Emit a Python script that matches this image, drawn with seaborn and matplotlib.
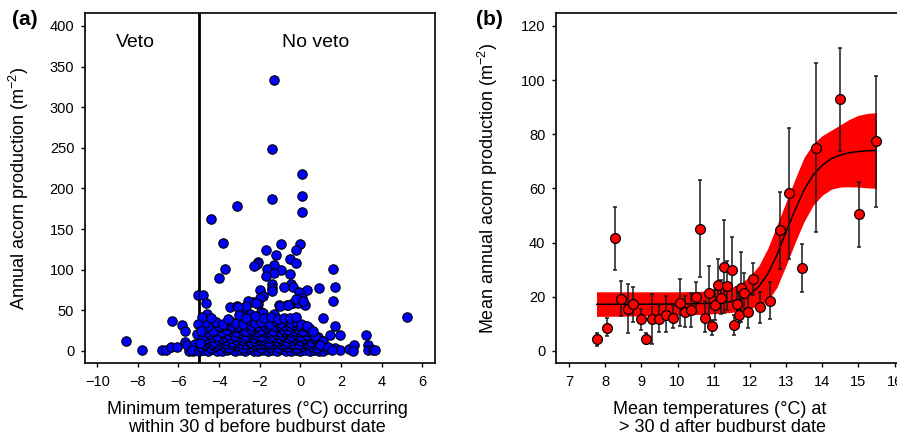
import seaborn as sns
import matplotlib.pyplot as plt
import numpy as np

# ---- panel (a): minimum temperature vs annual acorn production ----
veto_x = [-8.60, -7.78, -6.81, -6.60, -6.39, -6.09, -5.50, -5.29, -6.30, -5.81,
          -5.70, -5.70, -5.57, -5.21, -5.11, -5.35]
veto_y = [12.3, 1.2, 1.6, 0.8, 4.5, 4.9, 0, 0, 37, 31.6,
          24.2, 11.1, 7, 8, 20.5, 1]

high_x = [-1.29, -1.39, 0.10, 0.10, -1.39, -3.10, 0.10, -4.40, -3.79, -0.98,
          0.0, -1.70, -0.21, -1.20, -0.51, -2.10, -2.16, -2.30, -1.28, -0.21,
          -3.69, 1.58, -1.66, -0.97, -1.31, -0.51, -1.68, -4.0, -1.38, -0.47,
          -1.38, -0.80, -0.39, 0.91, 1.71, -1.98, -1.38, 0.32, -0.08, -5.02,
          -4.79, -1.84, 0.07, -2.0, -4.66, 1.60, -2.33, -2.59, -0.36, -0.11,
          0.2, -1.04, -0.65, -3.49, -3.10, -2.79, -2.07, -2.46, -4.6, -1.93,
          -1.28, -2.66, -2.17, -1.02, -0.61, -3.07, -1.84, -0.20, 0.13]
high_y = [334, 248, 218, 191, 187, 178, 171, 163, 133, 132,
          132, 124, 124, 118, 113, 110, 107, 104, 106, 108,
          101, 101, 101, 100, 96, 95, 92, 90, 83, 82,
          78, 79, 79, 78, 79, 75, 73.5, 75.6, 72, 69,
          69, 68, 65, 65, 59, 61, 60, 62, 59, 59.5,
          56, 56, 56, 54, 55, 52.6, 58, 46, 46, 48.5,
          45, 55.4, 58.7, 55.4, 56.6, 53.7, 47, 64, 62]

# dense cloud, read row by row from the bottom
row0_x = [-5.0, -4.8, -4.55, -4.3, -4.1, -3.85, -3.6, -3.4, -3.2, -2.95, -2.75, -2.5, -2.3, -2.1, -1.85,
          -1.6, -1.4, -1.15, -0.9, -0.7, -0.45, -0.2, 0.0, 0.2, 0.45, 0.65, 0.9, 1.1, 1.3]
row0_y = [0, 1.5, 0, 2, 0.5, 0, 1, 2, 0, 1, 0, 2, 0.5, 0, 1.5,
          0, 1, 0, 2, 0.5, 0, 1, 0, 1.5, 0, 1, 0, 0.5, 2]
row1_x = [-4.9, -4.65, -4.4, -4.2, -3.95, -3.7, -3.5, -3.25, -3.05, -2.85, -2.6, -2.4, -2.2, -1.95,
          -1.75, -1.5, -1.3, -1.05, -0.85, -0.6, -0.35, -0.15, 0.1, 0.3, 0.55, 0.8, 1.0]
row1_y = [5, 7, 4, 6, 8, 5, 4, 7, 6, 4, 8, 5, 6, 4, 7, 5, 8, 4, 6, 5, 7, 4, 6, 8, 5, 4, 7]
rowA_x = [-4.75, -4.5, -4.3, -4.05, -3.8, -3.6, -3.35, -3.15, -2.9, -2.7, -2.5, -2.3, -2.05,
          -1.85, -1.6, -1.4, -1.2, -0.95, -0.75, -0.5, -0.3, -0.05, 0.2, 0.4, 0.65, 0.9]
rowA_y = [9, 10, 8, 9, 10, 8, 9, 10, 8, 9, 10, 9, 8, 10, 9, 8, 10, 9, 8, 10, 9, 8, 10, 9, 8, 9]
row2_x = [-4.85, -4.5, -4.25, -4.0, -3.75, -3.55, -3.3, -3.1, -2.9, -2.65, -2.45, -2.25, -2.0,
          -1.8, -1.55, -1.35, -1.1, -0.9, -0.65, -0.4, -0.2, 0.05, 0.25, 0.5, 0.75, 1.05]
row2_y = [12, 14, 11, 13, 15, 12, 11, 14, 13, 15, 11, 12, 14, 13, 11, 15, 12, 14, 11, 13, 15, 12, 14, 11, 13, 12]
rowB_x = [-4.6, -4.35, -3.9, -3.65, -3.4, -3.0, -2.8, -2.55, -2.3, -2.05, -1.75, -1.5, -1.25,
          -1.0, -0.8, -0.55, -0.3, -0.05, 0.2, 0.4, 0.7]
rowB_y = [16, 17.5, 15.5, 17, 16.5, 17, 16, 17.5, 16, 17, 16.5, 16, 17.5, 16, 17, 16.5, 16, 17, 15.5, 17, 16]
row3_x = [-4.8, -4.45, -4.1, -3.8, -3.5, -3.2, -2.95, -2.7, -2.4, -2.15, -1.9, -1.65, -1.4, -1.15,
          -0.9, -0.7, -0.45, -0.2, 0.05, 0.3, 0.55, 0.85]
row3_y = [19, 21, 18, 22, 20, 19, 22, 18, 21, 20, 19, 22, 18, 21, 20, 22, 19, 21, 18, 20, 22, 17]
rowC_x = [-4.65, -4.2, -3.85, -3.45, -3.15, -2.85, -2.6, -2.3, -2.05, -1.8, -1.5, -1.25, -1.0,
          -0.75, -0.5, -0.25, 0.0, 0.25, 0.5]
rowC_y = [23, 24, 23.5, 24, 23, 24.5, 23, 24, 23.5, 24, 23, 24.5, 23, 24, 23.5, 24, 23, 24, 23]
row4_x = [-4.75, -4.3, -3.95, -3.6, -3.3, -3.0, -2.7, -2.45, -2.2, -1.95, -1.65, -1.35, -1.1, -0.85,
          -0.6, -0.35, -0.1, 0.15, 0.4]
row4_y = [27, 25, 29, 26, 28, 30, 25, 27, 29, 26, 28, 25, 30, 27, 26, 29, 27, 25, 28]
rowD_x = [-4.55, -4.0, -3.7, -3.35, -3.05, -2.75, -2.4, -2.1, -1.8, -1.55, -1.3, -1.0, -0.75,
          -0.5, -0.25, 0.0, 0.2]
rowD_y = [31, 30.5, 31.5, 31, 30.5, 31.5, 31, 30.5, 31.5, 31, 30.5, 31.5, 31, 30.5, 31.5, 31, 30.5]
row5_x = [-4.7, -4.15, -3.8, -3.45, -3.15, -2.85, -2.55, -2.25, -1.95, -1.5, -1.2, -0.95, -0.7,
          -0.45, -0.2, 0.05, 0.3]
row5_y = [34, 36, 33, 37, 35, 33, 38, 34, 36, 33, 37, 35, 38, 34, 36, 33, 31]
row6_x = [-4.85, -4.4, -3.55, -3.0, -2.7, -2.25, -1.8, -1.45, -1.1, -0.8, -0.5, -0.2]
row6_y = [42, 40, 39, 44, 41, 43, 40, 42, 39, 41, 40, 42]

right_x = [1.12, 0.95, 1.47, 1.93, 1.70, 1.93, 2.39, 2.63, 2.60, 3.21, 3.31, 3.31, 3.59, 3.67,
           1.35, 1.55, 0.70, 0.60, 1.09, 1.70, 5.23, -4.95, -5.05, -4.90]
right_y = [12.3, 7, 19.3, 20.1, 4, 0.8, 2, 7, 0, 19.7, 7.8, 0.8, 0.8, 1.6,
           5, 1, 18, 25, 40, 30.4, 42.3, 10, 33, 25]

min_temp = np.array(veto_x + high_x + row0_x + row1_x + rowA_x + row2_x + rowB_x + row3_x
                    + rowC_x + row4_x + rowD_x + row5_x + row6_x + right_x)
acorns = np.array(veto_y + high_y + row0_y + row1_y + rowA_y + row2_y + rowB_y + row3_y
                  + rowC_y + row4_y + rowD_y + row5_y + row6_y + right_y)

# ---- panel (b): mean temperature vs mean acorn production ----
temp = [7.76, 8.04, 8.26, 8.45, 8.62, 8.78, 8.98, 9.13, 9.29, 9.48,
        9.68, 9.88, 10.08, 10.22, 10.38, 10.51, 10.61, 10.75, 10.86, 10.95,
        11.03, 11.13, 11.21, 11.29, 11.38, 11.51, 11.57, 11.64, 11.71, 11.76,
        11.84, 11.96, 12.08, 12.28, 12.56, 12.82, 13.08, 13.43, 13.84, 14.50,
        15.02, 15.50]
mean_prod = [4.2, 8.6, 41.6, 19.3, 15.4, 17.2, 11.6, 4.4, 11.8, 11.8,
             13.4, 12.2, 17.7, 14.3, 15.0, 20.0, 45.1, 12.3, 21.2, 9.2,
             16.8, 24.5, 19.6, 30.9, 24.0, 29.9, 9.7, 17.4, 13.3, 23.2,
             21.3, 14.2, 26.4, 16.1, 18.5, 44.6, 58.3, 30.6, 75.0, 93.0,
             50.5, 77.5]
err_hi = [6.4, 12.0, 53.3, 25.9, 24.8, 23.7, 15.3, 6.4, 21.0, 16.9,
          20.2, 16.5, 26.7, 20.2, 21.2, 25.5, 63.0, 18.5, 31.3, 11.3,
          22.4, 33.8, 26.1, 48.2, 33.0, 42.1, 13.2, 23.7, 21.2, 36.6,
          28.6, 21.2, 32.3, 21.8, 25.3, 58.6, 82.5, 39.3, 106.2, 111.9,
          62.5, 101.6]
err_lo = [1.7, 5.4, 29.8, 12.8, 6.4, 10.7, 7.6, 2.7, 2.7, 6.8,
          6.9, 8.3, 9.1, 8.9, 8.9, 14.4, 27.2, 7.0, 11.3, 5.8,
          11.3, 16.9, 13.6, 13.8, 15.0, 18.1, 5.8, 11.6, 10.1, 10.7,
          13.8, 8.3, 20.6, 10.3, 11.6, 30.4, 34.1, 21.8, 44.0, 73.9,
          38.4, 53.2]

# fitted curve and its band
fit_x = [7.76, 9, 10, 10.5, 11, 11.5, 11.75, 12, 12.25, 12.5, 12.75, 13, 13.25, 13.5,
         13.75, 14, 14.25, 14.5, 14.75, 15, 15.25, 15.5]
fit_y = [17.2, 17.2, 17.3, 17.4, 17.6, 18.2, 19.0, 20.8, 23.8, 28.5, 35.5, 44.0, 52.0, 59.5,
         65.0, 68.5, 71.0, 72.3, 73.2, 73.6, 73.9, 74.0]
band_hi = [21.8, 21.8, 21.8, 21.9, 22.2, 23.5, 25.0, 27.5, 31.5, 38.0, 46.5, 55.0, 63.5, 71.5,
           76.5, 79.5, 81.5, 83.5, 85.5, 87.0, 87.7, 88.0]
band_lo = [12.7, 12.9, 13.2, 13.4, 13.7, 14.2, 14.7, 15.5, 16.8, 18.5, 23.5, 31.5, 40.0, 47.8,
           53.8, 57.5, 59.7, 60.5, 60.6, 60.5, 60.2, 60.0]

sns.set_style('ticks')
plt.rcParams['font.family'] = ['Liberation Sans', 'DejaVu Sans']
plt.rcParams['mathtext.default'] = 'regular'
plt.rcParams['text.color'] = 'black'
plt.rcParams['axes.labelcolor'] = 'black'

fig = plt.figure(figsize=(8.97, 4.45), dpi=100)
ax1 = fig.add_axes([85 / 897, 1 - 363 / 445, 350 / 897, 350 / 445])
ax2 = fig.add_axes([556 / 897, 1 - 363 / 445, 351.6 / 897, 350 / 445])

# panel (a)
ax1.axvline(-5, color='black', lw=2, zorder=1)
sns.scatterplot(x=min_temp, y=acorns, ax=ax1, color='#0000ff', edgecolor='black',
                linewidth=0.8, s=46, zorder=3)
ax1.set_xlim(-10.6, 6.62)
ax1.set_ylim(-14.8, 416)
ax1.set_xticks(range(-10, 7, 2))
ax1.set_yticks(range(0, 401, 50))
ax1.text(-8.12, 374.5, 'Veto', ha='center', va='baseline', fontsize=14)
ax1.text(0.73, 374.5, 'No veto', ha='center', va='baseline', fontsize=14)
ax1.set_ylabel('Annual acorn production (m$^{-2}$)', fontsize=13)
ax1.yaxis.set_label_coords(-0.155, 0.5)

# panel (b)
ax2.fill_between(fit_x, band_lo, band_hi, color='#ff0000', lw=0, zorder=1)
sns.lineplot(x=fit_x, y=fit_y, ax=ax2, color='black', lw=1.1, zorder=2)
yerr = [np.array(mean_prod) - np.array(err_lo), np.array(err_hi) - np.array(mean_prod)]
ax2.errorbar(temp, mean_prod, yerr=yerr, fmt='none', ecolor='#1a1a1a', elinewidth=1.1,
             capsize=1.3, capthick=1.1, zorder=3)
sns.scatterplot(x=temp, y=mean_prod, ax=ax2, color='#ff0000', edgecolor='black',
                linewidth=0.9, s=50, zorder=4)
ax2.set_xlim(6.64, 16.36)
ax2.set_ylim(-4.5, 124.8)
ax2.set_xticks(range(7, 17))
ax2.set_yticks(range(0, 121, 20))
ax2.set_ylabel('Mean annual acorn production (m$^{-2}$)', fontsize=13)
ax2.yaxis.set_label_coords(-0.159, 0.5)

for ax in (ax1, ax2):
    for sp in ax.spines.values():
        sp.set_linewidth(1.2)
        sp.set_color('black')
    ax.tick_params(axis='both', direction='out', length=2.7, width=1, labelsize=10.5,
                   colors='black')
    ax.tick_params(axis='x', pad=6)
    ax.tick_params(axis='y', pad=5)
    ax.set_xlabel('')

fig.text(257 / 897, 1 - 401 / 445, 'Minimum temperatures (°C) occurring\nwithin 30 d before budburst date',
         ha='center', va='top', fontsize=13, linespacing=1.05)
fig.text(720 / 897, 1 - 401 / 445, 'Mean temperatures (°C) at\n > 30 d after budburst date',
         ha='center', va='top', fontsize=13, linespacing=1.05)
fig.text(12 / 897, 1 - 10 / 445, '(a)', ha='left', va='top', fontsize=15, fontweight='bold')
fig.text(476 / 897, 1 - 10 / 445, '(b)', ha='left', va='top', fontsize=15, fontweight='bold')

plt.savefig('out.png', dpi=100)
